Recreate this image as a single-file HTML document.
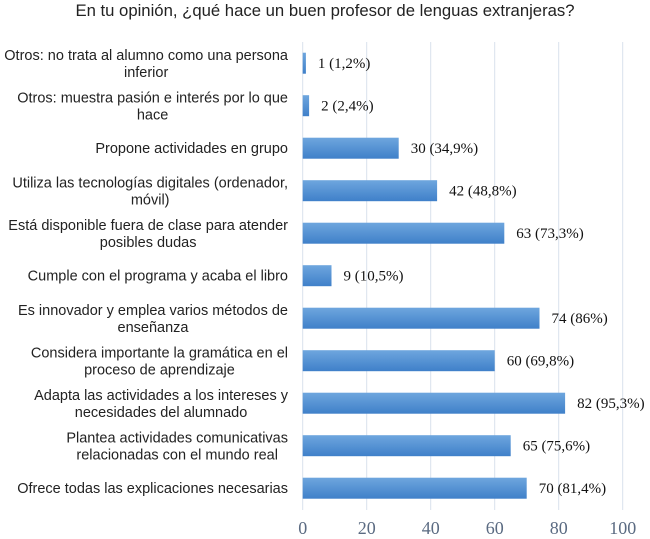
<!DOCTYPE html>
<html><head><meta charset="utf-8"><style>
body{margin:0;background:#fff;width:650px;height:539px;overflow:hidden}
svg{display:block}
.cat{font-family:"Liberation Sans",sans-serif;font-size:14.5px;fill:#222}
.val{font-family:"Liberation Serif",serif;font-size:15px;fill:#111}
.tick{font-family:"Liberation Serif",serif;font-size:18px;fill:#5b6b82}
</style></head><body>
<svg id="chart" width="650" height="539">
<text x="325" y="16" text-anchor="middle" font-family="Liberation Sans, sans-serif" font-size="16.7" fill="#222">En tu opinión, ¿qué hace un buen profesor de lenguas extranjeras?</text>
<g id="grid"></g><g id="bars"></g><g id="labels"></g>
</svg>
<script>
const categories=[
["Otros: no trata al alumno como una persona","inferior"],
["Otros: muestra pasión e interés por lo que","hace"],
["Propone actividades en grupo"],
["Utiliza las tecnologías digitales (ordenador,","móvil)"],
["Está disponible fuera de clase para atender","posibles dudas"],
["Cumple con el programa y acaba el libro"],
["Es innovador y emplea varios métodos de","enseñanza"],
["Considera importante la gramática en el","proceso de aprendizaje"],
["Adapta las actividades a los intereses y","necesidades del alumnado"],
["Plantea actividades comunicativas","relacionadas con el mundo real"],
["Ofrece todas las explicaciones necesarias"]];
const values=[1,2,30,42,63,9,74,60,82,65,70];
const valueLabels=["1 (1,2%)","2 (2,4%)","30 (34,9%)","42 (48,8%)","63 (73,3%)","9 (10,5%)","74 (86%)","60 (69,8%)","82 (95,3%)","65 (75,6%)","70 (81,4%)"];
const ticks=[0,20,40,60,80,100];
const NS="http://www.w3.org/2000/svg";
const x=v=>302.7+v*3.2;
const y=i=>52.7+i*42.5;
const bh=21;
const LX=288;
function mk(t,a,p){const e=document.createElementNS(NS,t);for(const k in a)e.setAttribute(k,a[k]);p.appendChild(e);return e;}
const grid=document.getElementById('grid'),bars=document.getElementById('bars'),labels=document.getElementById('labels');
const defs=mk('defs',{},document.getElementById('chart'));
const lg=mk('linearGradient',{id:'bg',x1:0,y1:0,x2:0,y2:1},defs);
mk('stop',{offset:'0','stop-color':'#6ea6de'},lg);mk('stop',{offset:'1','stop-color':'#3f80c9'},lg);
ticks.forEach(t=>{
 const l=mk('line',{x1:x(t),x2:x(t),y1:42,y2:510,stroke:'#d9e1ec','stroke-width':1},grid);
 
 
 const tx=mk('text',{x:x(t),y:534,'text-anchor':'middle',class:'tick'},grid);tx.textContent=t;
 
 
});
values.forEach((v,i)=>{
 const r=mk('rect',{x:x(0),y:y(i),width:x(v)-x(0),height:bh,fill:'url(#bg)'},bars);
 
 
 const vt=mk('text',{x:x(v)+12,y:y(i)+bh/2+5,class:'val'},labels);vt.textContent=valueLabels[i];
 
 
 const c=categories[i];const cy=y(i)+bh/2;
 if(c.length==1){
  const ct=mk('text',{x:LX,y:cy+5,'text-anchor':'end',class:'cat'},labels);
  
  
  ct.textContent=c[0];
 } else {
  const a=mk('text',{x:LX,y:cy-3,'text-anchor':'end',class:'cat'},labels);
  
  
  a.textContent=c[0];
  const w=a.getComputedTextLength();
  const b=mk('text',{x:LX-w/2,y:cy+14,'text-anchor':'middle',class:'cat'},labels);
  
  
  b.textContent=c[1];
 }
});
</script>
</body></html>
